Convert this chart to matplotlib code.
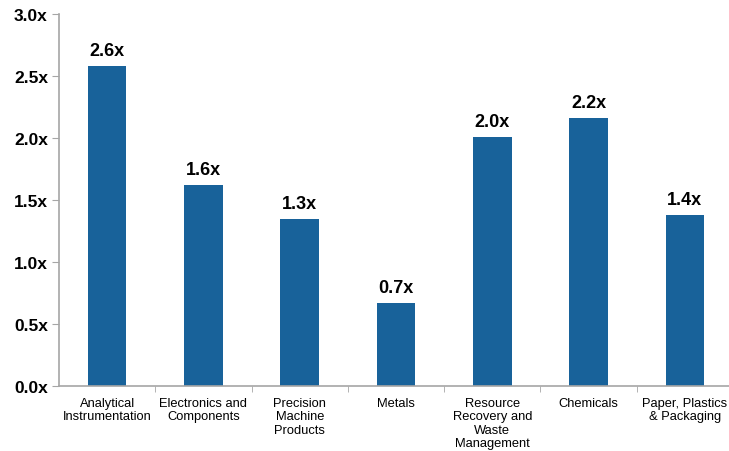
import matplotlib.pyplot as plt
import numpy as np

plt.rcParams['font.family'] = ['Liberation Sans', 'DejaVu Sans']

categories = ['Analytical\nInstrumentation', 'Electronics and\nComponents',
              'Precision\nMachine\nProducts', 'Metals',
              'Resource\nRecovery and\nWaste\nManagement', 'Chemicals',
              'Paper, Plastics\n& Packaging']
values = [2.58, 1.62, 1.35, 0.67, 2.01, 2.16, 1.38]
labels = ['2.6x', '1.6x', '1.3x', '0.7x', '2.0x', '2.2x', '1.4x']
yticks = [0.0, 0.5, 1.0, 1.5, 2.0, 2.5, 3.0]

bar_color = '#18629A'
spine_color = '#A6A6A6'

fig = plt.figure(figsize=(7.29, 4.52), dpi=100)
ax = fig.add_axes([59 / 729, 1 - 387 / 452, 674 / 729, 372 / 452])

x = np.arange(len(categories))
bars = ax.bar(x, values, width=0.4, color=bar_color)

# value labels above bars
for b, lab in zip(bars, labels):
    ax.annotate(lab, (b.get_x() + b.get_width() / 2, b.get_height()),
                xytext=(0, 5), textcoords='offset points',
                ha='center', va='bottom', fontsize=13, fontweight='bold')

ax.set_xlim(-0.5, len(categories) - 0.5)
ax.set_ylim(0, 3.0)
ax.set_yticks(yticks)
ax.set_yticklabels([f'{v:.1f}x' for v in yticks], fontsize=12.5, fontweight='bold')

ax.set_xticks(x)
ax.set_xticklabels(categories, fontsize=9.3, linespacing=1.15, va='top')
ax.tick_params(axis='x', which='major', length=0, pad=8)
ax.set_xticks(np.arange(0.5, len(categories) - 0.5, 1), minor=True)
ax.tick_params(axis='x', which='minor', length=4, color=spine_color, direction='out')
ax.tick_params(axis='y', length=5, color=spine_color, direction='out', pad=3)

for s in ['top', 'right']:
    ax.spines[s].set_visible(False)
for s in ['left', 'bottom']:
    ax.spines[s].set_color(spine_color)
    ax.spines[s].set_linewidth(1.2)

fig.savefig('out.png', dpi=100)
